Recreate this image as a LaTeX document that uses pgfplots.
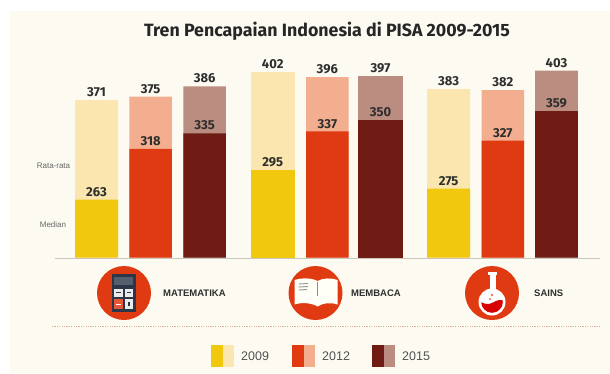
\documentclass[border=0pt]{standalone}
\usepackage{pgfplots}
\pgfplotsset{compat=1.18}
\usepackage{fontspec}
\setmainfont{Fira Sans}
\newfontfamily\arialish{Liberation Sans}

\definecolor{panel}{HTML}{FDFBF1}
\definecolor{yearA}{HTML}{F2C80F}
\definecolor{yearAl}{HTML}{FAE6AE}
\definecolor{yearB}{HTML}{E03A12}
\definecolor{yearBl}{HTML}{F3AE8F}
\definecolor{yearC}{HTML}{6F1D14}
\definecolor{yearCl}{HTML}{BB8D80}
\definecolor{ink}{HTML}{2E2E2E}
\definecolor{axisrule}{HTML}{C9C6BE}
\definecolor{dots}{HTML}{DDAE98}
\definecolor{navy}{HTML}{2B3648}

\begin{document}
\begin{tikzpicture}[x=1pt,y=1pt]
\useasboundingbox (0,0) rectangle (610,373);

% Layout drawn in a top-down coordinate frame
\begin{scope}[yshift=373pt,y=-1pt]
  \fill[panel] (10,11) rectangle (610,373);
  \node[font=\fontsize{17.8}{18}\selectfont\bfseries,text=black!85] at (327,31) {Tren Pencapaian Indonesia di PISA 2009-2015};
  \node[font=\arialish\fontsize{8}{9}\selectfont,text=black!60] at (53.5,166) {Rata-rata};
  \node[font=\arialish\fontsize{8}{9}\selectfont,text=black!60] at (53,225) {Median};
  \draw[axisrule,line width=0.9pt] (55,258) -- (600,258);
  \draw[dots,line width=0.8pt,dash pattern=on 1.2pt off 1.2pt] (52,326) -- (600,326);

  % Calculator icon
  \fill[yearB] (124,293) circle (27);
  \fill[navy] (111.7,274) rectangle (135.7,312);
  \fill[navy!80!white] (114,277) rectangle (133,285);
  \fill[white!92!black] (114,288.5) rectangle (123,297);
  \fill[white!92!black] (124.5,288.5) rectangle (133,297);
  \fill[yearB!85!white] (114,299) rectangle (123,309);
  \fill[white!92!black] (124.5,299) rectangle (133,309);
  \fill[navy] (116,292) rectangle (121,293.2);
  \fill[navy] (126.5,292) rectangle (131,293.2);
  \fill[white] (116,303.5) rectangle (121,304.7);
  \fill[navy] (128,302) rectangle (129.6,306);
  \node[font=\arialish\fontsize{9.5}{10}\selectfont\bfseries,text=ink,anchor=west,inner sep=0] at (163,293) {MATEMATIKA};

  % Open book icon
  \fill[yearB] (315.5,293) circle (27);
  \fill[white!97!yellow] (294.5,280) .. controls (302,277.5) and (312,278) .. (317.5,281)
     .. controls (323,278) and (331,277.5) .. (337.5,280) -- (337.5,304.5)
     .. controls (330,302) and (323,303) .. (317.5,306.5)
     .. controls (312,303) and (302,302) .. (294.5,304.5) -- cycle;
  \draw[black!45,line width=1.2pt] (317.5,281.5) -- (317.5,296);
  \draw[black!40,line width=1pt] (299,284) -- (308,283.5) (298.5,287) -- (308,286.5) (299,290) -- (307,289.5);
  \node[font=\arialish\fontsize{9.5}{10}\selectfont\bfseries,text=ink,anchor=west,inner sep=0] at (351,293) {MEMBACA};

  % Flask icon
  \fill[yearB] (492,293) circle (27);
  \fill[white] (488,272) rectangle (497,274.5);
  \fill[white] (489.5,274) rectangle (495.5,292);
  \fill[white] (492,302) circle (13.5);
  \begin{scope}
    \clip (492,302) circle (10.8);
    \fill[red!85!black] (479,301) .. controls (484,304) and (488,305) .. (492,303) .. controls (497,300) and (501,299) .. (505,301) -- (505,316) -- (479,316) -- cycle;
  \end{scope}
  \fill[yearB!70!white] (492,295) circle (1.4);
  \fill[yearB!70!white] (490,299) circle (1.1);
  \node[font=\arialish\fontsize{9.5}{10}\selectfont\bfseries,text=ink,anchor=west,inner sep=0] at (534,293) {SAINS};

  % Year key
  \foreach \x/\d/\l/\lab in {211/yearA/yearAl/2009,292/yearB/yearBl/2012,372/yearC/yearCl/2015}{
    \fill[\l] (\x,345) rectangle (\x+22.5,367);
    \fill[\d] (\x,345) rectangle (\x+12,367);
    \node[font=\arialish\fontsize{12.5}{13}\selectfont,text=black!68,anchor=west,inner sep=0] at (\x+30,356) {\lab};
  }
\end{scope}

% Score bars: 200 sits on the baseline, one point is 0.92 pt tall
\begin{axis}[
  at={(55pt,115.5pt)}, anchor=south west,
  scale only axis, width=533pt, height=202.4pt,
  xmin=55, xmax=588, ymin=200, ymax=420,
  hide axis, clip=false,
  /pgf/number format/assume math mode=true,
  /pgf/number format/fixed,
  nodes near coords,
  point meta=y,
  every node near coord/.append style={
    font=\fontsize{13}{13}\selectfont\bfseries,
    text=ink, anchor=south, inner sep=0pt, yshift=3pt},
]
% Rata-rata
\addplot[ybar,bar shift=0pt,bar width=43pt,fill=yearAl,draw=none] coordinates {(96.5,371) (448.65,383)};
\addplot[ybar,bar shift=0pt,bar width=44.5pt,fill=yearAl,draw=none] coordinates {(272.75,402)};
\addplot[ybar,bar shift=0pt,bar width=42.6pt,fill=yearBl,draw=none] coordinates {(150.65,375) (327.35,396) (502.85,382)};
\addplot[ybar,bar shift=0pt,bar width=42.6pt,fill=yearCl,draw=none] coordinates {(204.65,386) (556.5,403)};
\addplot[ybar,bar shift=0pt,bar width=44.4pt,fill=yearCl,draw=none] coordinates {(380.5,397)};
% Median
\addplot[ybar,bar shift=0pt,bar width=43pt,fill=yearA,draw=none] coordinates {(96.5,263) (448.65,275)};
\addplot[ybar,bar shift=0pt,bar width=44.5pt,fill=yearA,draw=none] coordinates {(272.75,295)};
\addplot[ybar,bar shift=0pt,bar width=42.6pt,fill=yearB,draw=none] coordinates {(150.65,318) (327.35,337) (502.85,327)};
\addplot[ybar,bar shift=0pt,bar width=42.6pt,fill=yearC,draw=none] coordinates {(204.65,335) (556.5,359)};
\addplot[ybar,bar shift=0pt,bar width=44.4pt,fill=yearC,draw=none] coordinates {(380.5,350)};
\end{axis}
\end{tikzpicture}
\end{document}
